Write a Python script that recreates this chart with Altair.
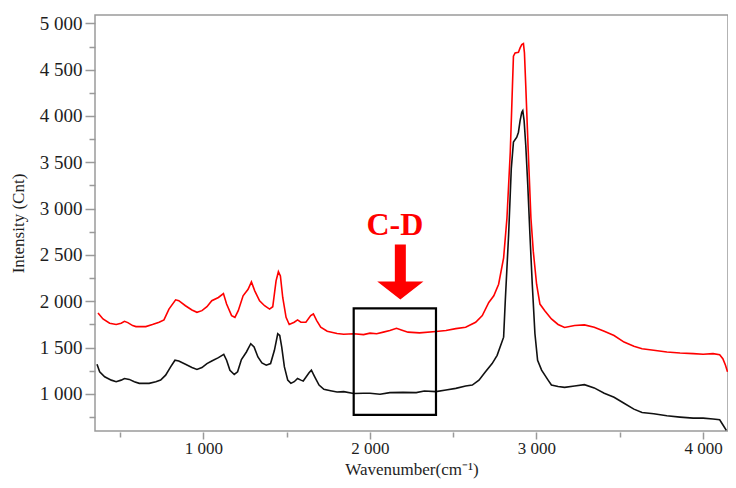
import altair as alt
import pandas as pd

# ---- data ----
red_wavenumber = [368, 398, 438, 477, 507, 527, 547, 576, 596, 655, 695, 735, 764, 794, 834, 853, 893, 932,
                  962, 992, 1022, 1051, 1091, 1121, 1140, 1170, 1190, 1210, 1239, 1269, 1289, 1309, 1338,
                  1368, 1398, 1417, 1437, 1451, 1463, 1477, 1497, 1516, 1546, 1566, 1586, 1616, 1645, 1661,
                  1681, 1705, 1744, 1803, 1843, 1903, 1962, 2001, 2041, 2081, 2120, 2160, 2189, 2229, 2298,
                  2397, 2457, 2516, 2575, 2635, 2675, 2714, 2744, 2773, 2803, 2823, 2843, 2856, 2862, 2872,
                  2892, 2902, 2912, 2922, 2928, 2936, 2951, 2967, 2981, 3001, 3021, 3050, 3090, 3130, 3169,
                  3229, 3288, 3347, 3407, 3466, 3526, 3585, 3634, 3704, 3783, 3862, 3941, 4001, 4060, 4100,
                  4119, 4135, 4147]
red_intensity = [1874, 1809, 1763, 1749, 1763, 1784, 1770, 1738, 1727, 1727, 1749, 1774, 1799, 1916, 2016,
                 2006, 1952, 1906, 1881, 1899, 1941, 2006, 2041, 2084, 1970, 1845, 1827, 1899, 2059, 2130,
                 2209, 2113, 2006, 1952, 1916, 1941, 2220, 2319, 2273, 2041, 1827, 1749, 1774, 1799, 1774,
                 1774, 1845, 1863, 1792, 1720, 1677, 1652, 1645, 1649, 1640, 1656, 1650, 1667, 1685, 1709,
                 1691, 1667, 1659, 1674, 1685, 1705, 1720, 1774, 1845, 1988, 2059, 2184, 2469, 2897, 3611,
                 4324, 4645, 4681, 4688, 4735, 4770, 4781, 4681, 4324, 3611, 2897, 2541, 2184, 1970, 1899,
                 1809, 1750, 1718, 1738, 1745, 1720, 1677, 1631, 1560, 1514, 1488, 1471, 1453, 1442, 1435,
                 1428, 1435, 1424, 1381, 1310, 1239]

black_wavenumber = [362, 378, 408, 448, 477, 507, 527, 556, 586, 616, 675, 715, 744, 774, 804, 830, 853, 893,
                    932, 962, 992, 1022, 1051, 1091, 1123, 1140, 1160, 1186, 1206, 1229, 1259, 1285, 1305,
                    1328, 1352, 1378, 1404, 1427, 1447, 1459, 1471, 1487, 1507, 1526, 1546, 1566, 1586, 1600,
                    1635, 1649, 1669, 1695, 1724, 1764, 1803, 1843, 1903, 1962, 2001, 2061, 2120, 2199, 2278,
                    2327, 2397, 2457, 2516, 2575, 2615, 2655, 2694, 2734, 2764, 2803, 2813, 2833, 2849, 2862,
                    2882, 2892, 2902, 2912, 2918, 2926, 2936, 2948, 2961, 2975, 2991, 3007, 3031, 3070, 3090,
                    3130, 3169, 3229, 3288, 3347, 3407, 3466, 3526, 3585, 3634, 3704, 3783, 3862, 3941, 4001,
                    4060, 4100, 4119, 4140]
black_intensity = [1321, 1239, 1185, 1149, 1132, 1149, 1167, 1157, 1132, 1114, 1114, 1132, 1149, 1203, 1292,
                   1364, 1356, 1321, 1285, 1264, 1285, 1328, 1356, 1392, 1428, 1364, 1256, 1210, 1239, 1371,
                   1453, 1542, 1506, 1399, 1335, 1310, 1328, 1471, 1649, 1631, 1506, 1292, 1149, 1114, 1132,
                   1167, 1149, 1140, 1228, 1256, 1185, 1096, 1050, 1035, 1021, 1025, 1005, 1007, 1007, 996,
                   1014, 1017, 1014, 1032, 1025, 1043, 1060, 1085, 1096, 1149, 1239, 1328, 1417, 1613, 2006,
                   2719, 3432, 3718, 3771, 3825, 3950, 4039, 4057, 3950, 3682, 3254, 2719, 2184, 1649, 1364,
                   1257, 1149, 1096, 1080, 1071, 1085, 1100, 1065, 1007, 964, 900, 836, 800, 786, 764, 750,
                   739, 739, 729, 721, 668, 607]

x_ticks = [500, 1000, 1500, 2000, 2500, 3000, 3500, 4000]
y_ticks = [750, 1000, 1250, 1500, 1750, 2000, 2250, 2500, 2750, 3000, 3250, 3500, 3750, 4000,
           4250, 4500, 4750, 5000]
x_domain = [350, 4150]
y_domain = [600, 5090]

# annotation (data units)
box_x = [1903, 2397]
box_y = [775, 1923]
arrow_at = [2183, 2317]
label_text = ["C-D"]
label_at = [2150, 2719]

# ---- tables ----
lines = pd.DataFrame({
    "x": red_wavenumber + black_wavenumber,
    "y": red_intensity + black_intensity,
    "series": ["red"] * len(red_wavenumber) + ["black"] * len(black_wavenumber),
})
box = pd.DataFrame({"x": [box_x[0]], "x2": [box_x[1]], "y": [box_y[0]], "y2": [box_y[1]]})
arrow = pd.DataFrame({"x": [arrow_at[0]], "y": [arrow_at[1]]})
label = pd.DataFrame({"x": [label_at[0]], "y": [label_at[1]], "t": label_text})

SERIF = "Liberation Serif"
AXIS_GRAY = "#9a9a9a"
TEXT = "#1e1e1e"

xs = alt.Scale(domain=x_domain, nice=False, zero=False)
ys = alt.Scale(domain=y_domain, nice=False, zero=False)

x_axis = alt.Axis(
    values=x_ticks, domain=False, grid=False, offset=1,
    tickColor=AXIS_GRAY, tickWidth=1.5,
    tickSize={"condition": {"test": "datum.value % 1000 === 0", "value": 7}, "value": 5},
    labelExpr="datum.value % 1000 === 0 ? replace(format(datum.value, ','), ',', ' ') : ''",
    labelFont=SERIF, labelFontSize=17, labelColor=TEXT, labelPadding=1,
    labelOverlap=False, labelFlush=False,
    title="Wavenumber(cm\u207b\u00b9)", titleFont=SERIF, titleFontSize=17,
    titleFontWeight="normal", titleColor=TEXT, titleBaseline="alphabetic", titleY=42,
)
y_axis = alt.Axis(
    values=y_ticks, domain=False, grid=False,
    tickColor=AXIS_GRAY, tickWidth=1.5,
    tickSize={"condition": {"test": "datum.value % 500 === 0", "value": 10}, "value": 6},
    labelExpr="datum.value % 500 === 0 ? replace(format(datum.value, ','), ',', ' ') : ''",
    labelFont=SERIF, labelFontSize=19, labelColor=TEXT, labelPadding=3,
    labelOverlap=False, labelFlush=False,
    title="Intensity (Cnt)", titleFont=SERIF, titleFontSize=17, titleFontWeight="normal",
    titleColor=TEXT, titleX=-77, titleBaseline="middle", titleAngle=270,
)

X = alt.X("x:Q", scale=xs, axis=x_axis)
Y = alt.Y("y:Q", scale=ys, axis=y_axis)

line_layer = alt.Chart(lines).mark_line(strokeWidth=1.6, interpolate="linear", clip=True).encode(
    x=X, y=Y,
    color=alt.Color("series:N", scale=alt.Scale(domain=["red", "black"], range=["#ff0000", "#111111"]),
                    legend=None),
    detail="series:N",
)

box_layer = alt.Chart(box).mark_rect(fillOpacity=0, stroke="#000000", strokeWidth=2.2).encode(
    x=X, x2="x2:Q", y=Y, y2="y2:Q",
)

arrow_shape = "M-0.2,-1L0.2,-1L0.2,0.345L0.84,0.345L0,1L-0.84,0.345L-0.2,0.345Z"
arrow_layer = alt.Chart(arrow).mark_point(
    shape=arrow_shape, filled=True, size=3025, color="#ff0000", opacity=1, strokeWidth=0
).encode(x=X, y=Y)

text_layer = alt.Chart(label).mark_text(
    font=SERIF, fontSize=32, fontWeight="bold", color="#ff0000", align="center", baseline="alphabetic"
).encode(x=X, y=Y, text="t:N")

chart = alt.layer(line_layer, box_layer, arrow_layer, text_layer).properties(
    width=633, height=416,
    autosize=alt.AutoSizeParams(type="none"),
    padding={"left": 87, "top": 7, "right": 0, "bottom": 48},
    background="white",
).configure_view(stroke=AXIS_GRAY, strokeWidth=1.5)

chart.save("out.html", embed_options={"renderer": "svg", "actions": False})
